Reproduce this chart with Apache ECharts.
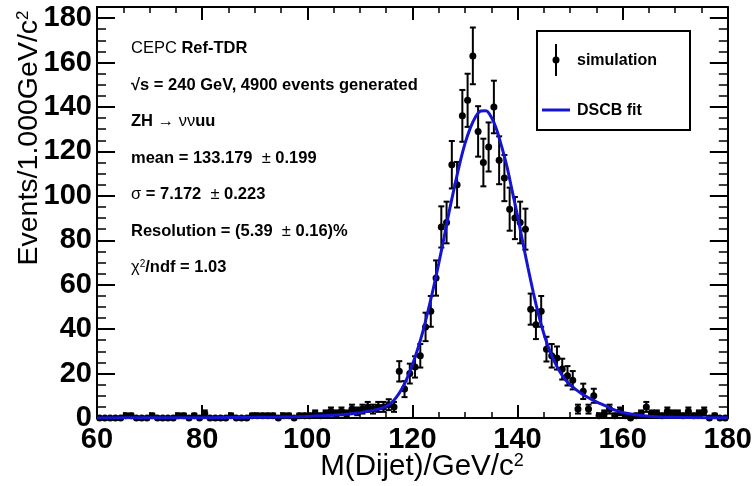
<!DOCTYPE html>
<html><head><meta charset="utf-8">
<script src="https://cdn.jsdelivr.net/npm/echarts@6/dist/echarts.min.js"></script>
<style>html,body{margin:0;padding:0;background:#fff}#c{width:755px;height:486px}</style>
</head><body><div id="c"></div>
<script>
// ---- data ----
const binLow = 60;      // first bin lower edge, GeV
const binWidth = 1;     // GeV
// events per 1 GeV bin, bins 60..179
const counts = [
  0,0,0,0,0,1,1,0,0,0,      // 60-69
  1,0,0,0,0,1,1,0,1,0,      // 70-79
  2,0,0,0,0,1,0,0,0,1,      // 80-89
  1,1,1,1,0,1,1,0,1,1,      // 90-99
  1,2,1,2,3,2,3,2,4,3,      // 100-109
  4,5,4,5,5,6,5,21,13,20,   // 110-119
  23,28,41,48,63,86,88,114,105,136, // 120-129
  143,163,129,115,122,140,116,108,94,90, // 130-139
  88,85,49,42,48,31,28,27,22,19, // 140-149
  17,4,12,4,10,1,2,4,1,3,   // 150-159
  1,0,1,2,5,2,2,1,3,2,      // 160-169
  2,1,3,1,2,3,0,1,0,0       // 170-179
];
// DSCB fit curve
const fitX = [60,70,80,90,95,100,105,108,110,112,114,115,116,117,118,119,120,121,122,123,124,125,126,127,128,129,130,131,132,133,134,135,136,137,138,139,140,141,142,143,144,145,146,147,148,149,150,151,152,153,154,155,156,157,158,159,160,161,162,164,167,170,175,180];
const fitY = [0.05,0.1,0.15,0.3,0.45,0.7,1.2,1.8,2.4,3.2,4.3,5.2,6.8,9.5,13.2,18,24,31,39,48.5,58.5,69.5,81,93,104,114.5,123.5,130.5,135.5,138.2,138.3,135.5,130,122,113,102,91,79,67.5,56.5,46.5,38,31,25.5,21,17.5,15,13,11.3,9.8,8.5,7.3,6.2,5.2,4.0,3.2,2.5,2.0,1.6,1.0,0.5,0.3,0.15,0.1];
const xRange = [60, 180];
const yRange = [0, 185];
const tickStep = 20;
const infoLines = [
  'CEPC {b|Ref-TDR}',
  '{b|√s = 240 GeV, 4900 events generated}',
  '{b|ZH} → νν{b|uu}',
  '{b|mean = 133.179}  ± {b|0.199}',
  'σ {b|= 7.172}  ± {b|0.223}',
  '{b|Resolution = (5.39}  ± {b|0.16)%}',
  'χ{sup|2}{b|/ndf = 1.03}'
];
const legendNames = ['simulation', 'DSCB fit'];
const xTitle = 'M(Dijet)/GeV/c{sup|2}';
const yTitle = 'Events/1.000GeV/c{sup|2}';

// ---- chart ----
const FONT = '"Liberation Sans", Arial, Helvetica, sans-serif';
const BLUE = '#1414d2';
const points = counts.map((n, i) => [binLow + (i + 0.5) * binWidth, n]);
const fitData = fitX.map((x, i) => [x, fitY[i]]);

function axisCommon(showLabel, majorLen, minorLen) {
  return {
    axisLine: { onZero: false, lineStyle: { color: '#000', width: 2 } },
    axisTick: { inside: true, length: majorLen, lineStyle: { color: '#000', width: 2 } },
    minorTick: { show: true, splitNumber: 4, length: minorLen, lineStyle: { color: '#000', width: 1.5 } },
    splitLine: { show: false },
    axisLabel: { show: showLabel, fontSize: 29, fontWeight: 'bold', color: '#000', fontFamily: FONT, showMaxLabel: showLabel ? undefined : false }
  };
}

const chart = echarts.init(document.getElementById('c'), null, { renderer: 'canvas' });

const graphics = [];
infoLines.forEach((t, i) => {
  graphics.push({
    type: 'text', left: 131, top: 49 + i * 36.5 - 9,
    style: {
      text: t, fill: '#000', font: '16.5px ' + FONT,
      rich: {
        b: { fontWeight: 'bold', fontSize: 16.5, fontFamily: FONT, fill: '#000' },
        sup: { fontSize: 10, fontFamily: FONT, verticalAlign: 'top', fill: '#000' }
      }
    }
  });
});
// legend box
graphics.push({ type: 'rect', shape: { x: 537, y: 31, width: 153, height: 99 }, style: { fill: '#fff', stroke: '#000', lineWidth: 2 }, z: 10 });
graphics.push({ type: 'line', shape: { x1: 556, y1: 44, x2: 556, y2: 76 }, style: { stroke: '#000', lineWidth: 2 }, z: 11 });
graphics.push({ type: 'circle', shape: { cx: 556, cy: 60, r: 3.5 }, style: { fill: '#000' }, z: 11 });
graphics.push({ type: 'text', x: 577, y: 61, style: { text: legendNames[0], font: 'bold 16px ' + FONT, fill: '#000', verticalAlign: 'middle' }, z: 11 });
graphics.push({ type: 'line', shape: { x1: 542, y1: 110, x2: 570, y2: 110 }, style: { stroke: BLUE, lineWidth: 3 }, z: 11 });
graphics.push({ type: 'text', x: 577, y: 111, style: { text: legendNames[1], font: 'bold 16px ' + FONT, fill: '#000', verticalAlign: 'middle' }, z: 11 });
// axis titles
graphics.push({
  type: 'text', x: 29, y: 138, rotation: Math.PI / 2,
  style: { text: yTitle, font: '28.5px ' + FONT, fill: '#000', align: 'center', verticalAlign: 'middle',
    rich: { sup: { fontSize: 17, fontFamily: FONT, verticalAlign: 'top', fill: '#000' } } }
});
graphics.push({
  type: 'text', x: 422, y: 467,
  style: { text: xTitle, font: '29.5px ' + FONT, fill: '#000', align: 'center', verticalAlign: 'middle',
    rich: { sup: { fontSize: 18, fontFamily: FONT, verticalAlign: 'top', fill: '#000' } } }
});

chart.setOption({
  animation: false,
  backgroundColor: '#fff',
  grid: { left: 97, right: 25, top: 7, bottom: 68, containLabel: false },
  xAxis: [
    Object.assign({ type: 'value', min: xRange[0], max: xRange[1], interval: tickStep, position: 'bottom' }, axisCommon(true, 13, 6),
      { axisLabel: { fontSize: 29, fontWeight: 'bold', color: '#000', fontFamily: FONT, margin: 7 } }),
    Object.assign({ type: 'value', min: xRange[0], max: xRange[1], interval: tickStep, position: 'top' }, axisCommon(false, 13, 6))
  ],
  yAxis: [
    Object.assign({ type: 'value', min: yRange[0], max: yRange[1], interval: tickStep, position: 'left' }, axisCommon(true, 18, 9),
      { axisLabel: { fontSize: 29, fontWeight: 'bold', color: '#000', fontFamily: FONT, margin: 5, showMaxLabel: false } }),
    Object.assign({ type: 'value', min: yRange[0], max: yRange[1], interval: tickStep, position: 'right' }, axisCommon(false, 18, 9))
  ],
  series: [
    {
      name: legendNames[0], type: 'custom', xAxisIndex: 0, yAxisIndex: 0, clip: false, z: 2,
      data: points,
      renderItem: function (params, api) {
        const x = api.value(0), n = api.value(1);
        const c = api.coord([x, n]);
        const kids = [];
        if (n > 0) {
          const e = Math.sqrt(n);
          const t = api.coord([x, n + e]), b = api.coord([x, Math.max(n - e, 0)]);
          kids.push({ type: 'line', shape: { x1: c[0], y1: t[1], x2: c[0], y2: b[1] }, style: { stroke: '#000', lineWidth: 2 } });
          kids.push({ type: 'line', shape: { x1: c[0] - 3, y1: t[1], x2: c[0] + 3, y2: t[1] }, style: { stroke: '#000', lineWidth: 2 } });
          kids.push({ type: 'line', shape: { x1: c[0] - 3, y1: b[1], x2: c[0] + 3, y2: b[1] }, style: { stroke: '#000', lineWidth: 2 } });
        }
        kids.push({ type: 'circle', shape: { cx: c[0], cy: c[1], r: 3.5 }, style: { fill: '#000' } });
        return { type: 'group', children: kids };
      }
    },
    {
      name: legendNames[1], type: 'line', xAxisIndex: 0, yAxisIndex: 0, z: 3,
      data: fitData, smooth: 0.3, showSymbol: false, symbol: 'none',
      lineStyle: { color: BLUE, width: 3 }
    }
  ],
  graphic: graphics
});
</script>
</body></html>
